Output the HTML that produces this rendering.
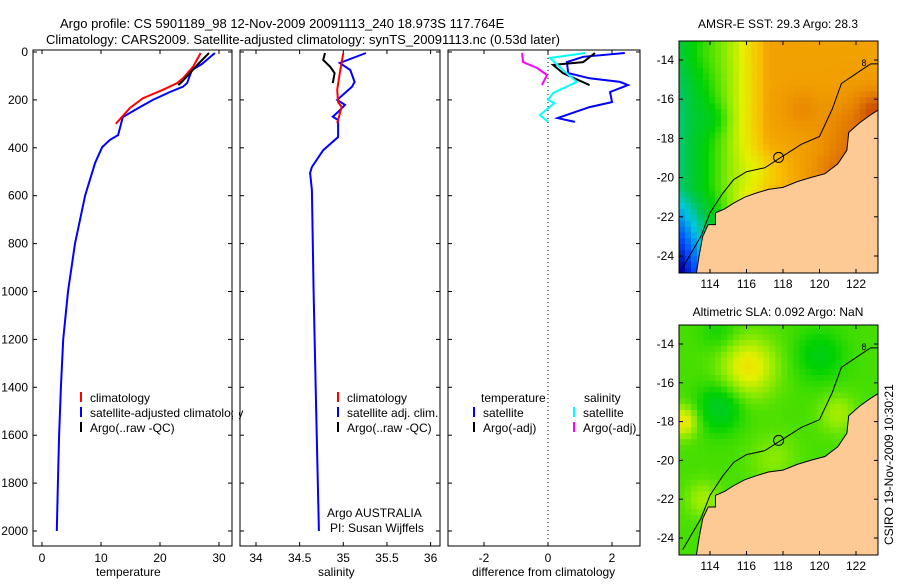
<!DOCTYPE html>
<html><head><meta charset="utf-8"><style>
body{margin:0;background:#fff}
svg text{font-family:"Liberation Sans",sans-serif;font-size:12px;fill:#000}
</style></head><body>
<svg id="fig" width="900" height="580" viewBox="0 0 900 580" xmlns="http://www.w3.org/2000/svg">
<text x="60" y="28" style="font-size:13px">Argo profile: CS 5901189_98 12-Nov-2009 20091113_240 18.973S 117.764E</text>
<text x="46" y="44" style="font-size:13px">Climatology: CARS2009. Satellite-adjusted climatology: synTS_20091113.nc (0.53d later)</text>
<g id="g"></g>
</svg>
<script>
// ---- data ----
const tClimDepth=[4,62,110,130,158,193,234,270,300];
const tClimVal=[26.9,25.6,23.9,22.9,20.5,17.1,14.9,13.6,12.5];
const tSatDepth=[4,50,75,130,145,167,200,230,272,347,367,397,463,576,600,800,1000,1200,1400,1600,1800,2000];
const tSatVal=[29.3,27.1,25.4,24.6,23.9,21.7,18.8,16.6,13.7,12.9,11.5,10.2,9.0,7.6,7.3,5.6,4.4,3.6,3.2,2.9,2.7,2.5];
const tArgoDepth=[4,54,88,125,138];
const tArgoVal=[28.3,26.3,25.1,23.7,23.1];
const sClimDepth=[4,88,158,209,230,284,297];
const sClimVal=[35.0,34.96,34.93,34.94,34.98,34.94,34.93];
const sSatDepth=[4,46,75,125,145,200,221,250,270,284,355,410,480,505,576,1000,1500,2000];
const sSatVal=[35.26,34.96,35.08,35.13,35.10,34.93,35.02,34.94,34.88,34.94,34.94,34.77,34.64,34.62,34.64,34.66,34.69,34.72];
const sArgoDepth=[4,33,62,88,130];
const sArgoVal=[34.79,34.77,34.85,34.90,34.88];
const dTSatDepth=[4,20,42,88,110,125,138,167,209,230,276,292];
const dTSatVal=[2.4,1.1,0.59,0.63,1.3,2.25,2.5,1.94,2.0,1.3,0.3,0.84];
const dTArgoDepth=[4,42,54,88,138];
const dTArgoVal=[1.47,1.1,0.16,0.47,1.3];
const dSSatDepth=[4,25,75,125,171,200,213,263,292];
const dSSatVal=[1.16,0.06,0.47,0.9,0.16,0,0.2,-0.25,0];
const dSArgoDepth=[4,42,67,96,138];
const dSArgoVal=[-0.81,-0.78,-0.34,-0.03,-0.19];
const depthTicks=[0,200,400,600,800,1000,1200,1400,1600,1800,2000];
const tTicks=[0,10,20,30];
const sTicks=[34,34.5,35,35.5,36];
const dTicks=[-2,0,2];
const lonTicks=[114,116,118,120,122];
const latTicks=[14,16,18,20,22,24];

const NS="http://www.w3.org/2000/svg";
const G=document.getElementById('g');
function mk(tag,at,parent){const e=document.createElementNS(NS,tag);for(const k in at)e.setAttribute(k,at[k]);(parent||G).appendChild(e);return e;}
const Y=d=>52+d*0.2395;
const panels=[
 {x0:33,x1:232,fx:v=>42+5.9*v,ticks:tTicks,label:'temperature',lx:96,name:'temperature-panel'},
 {x0:240,x1:440,fx:v=>256+87.3*(v-34),ticks:sTicks,label:'salinity',lx:318,name:'salinity-panel'},
 {x0:448,x1:640,fx:v=>548+32*v,ticks:dTicks,label:'difference from climatology',lx:472,name:'difference-panel'}
];
panels.forEach((p,i)=>{
 const r=mk('rect',{x:p.x0,y:50,width:p.x1-p.x0,height:496,fill:'none',stroke:'#000','stroke-width':1});
 
 
 p.ticks.forEach(t=>{const x=p.fx(t);
  mk('line',{x1:x,y1:50,x2:x,y2:54,stroke:'#000'});mk('line',{x1:x,y1:546,x2:x,y2:542,stroke:'#000'});
  const tx=mk('text',{x:x,y:562,'text-anchor':'middle'});tx.textContent=t;
  
  
 });
 depthTicks.forEach(d=>{const y=Y(d);
  mk('line',{x1:p.x0,y1:y,x2:p.x0+4,y2:y,stroke:'#000'});mk('line',{x1:p.x1,y1:y,x2:p.x1-4,y2:y,stroke:'#000'});
  if(i==0){const tx=mk('text',{x:28,y:y+4,'text-anchor':'end'});tx.textContent=d;
   
   }
 });
 const xl=mk('text',{x:p.lx,y:576});xl.textContent=p.label;
 
 
});
mk('line',{x1:548,y1:50,x2:548,y2:546,stroke:'#000','stroke-dasharray':'1,3'});
function series(p,ds,vs,col,name){
 const pts=ds.map((d,i)=>p.fx(vs[i]).toFixed(1)+','+Y(d).toFixed(1)).join(' ');
 const l=mk('polyline',{points:pts,fill:'none',stroke:col,'stroke-width':2});
 
 
}
series(panels[0],tSatDepth,tSatVal,'#0000ff','temp-satellite-line');
series(panels[0],tClimDepth,tClimVal,'#ff0000','temp-climatology-line');
series(panels[0],tArgoDepth,tArgoVal,'#000','temp-argo-line');
series(panels[1],sSatDepth,sSatVal,'#0000ff','sal-satellite-line');
series(panels[1],sClimDepth,sClimVal,'#ff0000','sal-climatology-line');
series(panels[1],sArgoDepth,sArgoVal,'#000','sal-argo-line');
series(panels[2],dTSatDepth,dTSatVal,'#0000ff','diff-temp-satellite-line');
series(panels[2],dTArgoDepth,dTArgoVal,'#000','diff-temp-argo-line');
series(panels[2],dSSatDepth,dSSatVal,'#00ffff','diff-sal-satellite-line');
series(panels[2],dSArgoDepth,dSArgoVal,'#ff00ff','diff-sal-argo-line');
function leg(x,y,col,txt){
 if(col)mk('line',{x1:x,y1:y-10,x2:x,y2:y,stroke:col,'stroke-width':2});
 const t=mk('text',{x:x+9,y:y});t.textContent=txt;
 
 
}
leg(81,402,'#ff0000','climatology');leg(81,417,'#0000ff','satellite-adjusted climatology');leg(81,432,'#000','Argo(..raw -QC)');
leg(338,402,'#ff0000','climatology');leg(338,417,'#0000ff','satellite adj. clim.');leg(338,432,'#000','Argo(..raw -QC)');
leg(472,402,null,'temperature');leg(575,402,null,'salinity');
leg(474,417,'#0000ff','satellite');leg(574,417,'#00ffff','satellite');
leg(474,432,'#000','Argo(-adj)');leg(574,432,'#ff00ff','Argo(-adj)');
let t=mk('text',{x:327,y:517});t.textContent='Argo AUSTRALIA';
t=mk('text',{x:330,y:532});t.textContent='PI: Susan Wijffels';
mk('rect',{x:233,y:380,width:6,height:60,fill:'#fff'});
mk('line',{x1:232,y1:380,x2:232,y2:440,stroke:'#000'});
mk('line',{x1:240,y1:380,x2:240,y2:440,stroke:'#000'});

// ---- maps ----
const cmapStops=[[0,0,0,160],[0.15,0,80,255],[0.3,0,200,220],[0.4,0,200,80],[0.5,0,210,0],[0.6,140,235,0],[0.67,230,240,0],[0.75,250,190,0],[0.82,235,140,0],[0.9,210,90,0],[1,180,0,0]];
function cmap(v){v=Math.max(0,Math.min(1,v));
 for(let i=1;i<cmapStops.length;i++){const a=cmapStops[i-1],b=cmapStops[i];
  if(v<=b[0]){const f=(v-a[0])/(b[0]-a[0]);return 'rgb('+[1,2,3].map(k=>Math.round(a[k]+(b[k]-a[k])*f)).join(',')+')';}}
 return 'rgb(180,0,0)';}
const gs=(lo,la,cx,cy,r)=>Math.exp(-((lo-cx)**2+(la-cy)**2)/(r*r));
const sst=(lo,la)=>0.79-0.085*Math.max(0,117.2-lo)+0.06*gs(lo,la,113,13.5,1.5)-0.06*Math.max(0,la-20.5)*Math.max(0,115.5-lo)/2-0.07*gs(lo,la,117,19.8,1.2)+0.08*gs(lo,la,122.5,18,2)+0.06*gs(lo,la,121,20,1.2)+0.08*gs(lo,la,123,16.5,0.8)-0.05*gs(lo,la,114.2,17,0.8)+0.03*gs(lo,la,119,16.5,1);
const sla=(lo,la)=>0.55+0.14*gs(lo,la,116.1,15.2,1.5)-0.1*gs(lo,la,114.5,17.3,1.2)+0.14*gs(lo,la,112.5,18,0.8)-0.07*gs(lo,la,120,14.6,1.3)+0.07*gs(lo,la,121,17.6,1)+0.07*gs(lo,la,113.6,22,0.9)+0.05*gs(lo,la,117.5,20,1.3)-0.05*gs(lo,la,118.5,22.5,1.5)-0.04*gs(lo,la,114.5,13.4,1);
const coast=[[113.2,25.2],[113.4,24],[113.6,23],[113.9,22.4],[114.3,22.4],[114.3,21.8],[114.8,21.6],[115.3,21.3],[115.9,21.0],[116.5,20.8],[117.2,20.6],[118,20.5],[118.8,20.2],[119.5,20.0],[120.3,19.8],[121,19.3],[121.5,18.6],[121.6,17.7],[122.2,17.2],[122.8,16.8],[123.3,16.5],[123.3,25.2]];
const shelf=[[112.5,24.6],[113.5,23],[114,21.8],[114.7,20.8],[115.3,20.1],[116,19.7],[117,19.5],[118,18.9],[119,18.3],[120,17.9],[120.7,16.5],[121.2,15.2],[122,14.7],[122.8,14.2],[123.2,14.2]];
function drawMap(top,bot,fn,title,ty,name){
 const x0=679,x1=878,lon=v=>710+(v-114)*18.25,lat=v=>top+19+(v-14)*((bot-top-36)/10);
 const mg=mk('g',{});
 const cp=mk('clipPath',{id:'c'+name},mg);mk('rect',{x:x0,y:top,width:x1-x0,height:bot-top},cp);
 const cg=mk('g',{'clip-path':'url(#c'+name+')'},mg);
 for(let lo=112.3;lo<123.5;lo+=0.33)for(let la=12.9;la<25.5;la+=0.3){
  mk('rect',{x:lon(lo).toFixed(1),y:lat(la).toFixed(1),width:6.4,height:6.2,fill:cmap(fn(lo+0.16,la+0.15))},cg);}
 mk('polygon',{points:coast.map(c=>lon(c[0])+','+lat(c[1])).join(' '),fill:'#fdc994',stroke:'#000','stroke-width':1},cg);
 mk('polyline',{points:shelf.map(c=>lon(c[0])+','+lat(c[1])).join(' '),fill:'none',stroke:'#000','stroke-width':1},cg);
 mk('circle',{cx:lon(117.76),cy:lat(18.97),r:5,fill:'none',stroke:'#000'},cg);
 mk('text',{x:lon(122.3),y:lat(14.3),style:'font-size:9px'},cg).textContent='8';
 mk('rect',{x:x0,y:top,width:x1-x0,height:bot-top,fill:'none',stroke:'#000'},mg);
 lonTicks.forEach(v=>{mk('line',{x1:lon(v),y1:top,x2:lon(v),y2:top+4,stroke:'#000'},mg);mk('line',{x1:lon(v),y1:bot,x2:lon(v),y2:bot-4,stroke:'#000'},mg);
  const tx=mk('text',{x:lon(v),y:bot+15,'text-anchor':'middle'},mg);tx.textContent=v;});
 latTicks.forEach(v=>{mk('line',{x1:x0,y1:lat(v),x2:x0+4,y2:lat(v),stroke:'#000'},mg);mk('line',{x1:x1,y1:lat(v),x2:x1-4,y2:lat(v),stroke:'#000'},mg);
  const tx=mk('text',{x:674,y:lat(v)+4,'text-anchor':'end'},mg);tx.textContent='-'+v;});
 const tt=mk('text',{x:778,y:ty,'text-anchor':'middle'},mg);tt.textContent=title;
 
 
}
drawMap(41,273,sst,'AMSR-E SST: 29.3 Argo: 28.3',28,'sst-map');
drawMap(325,555,sla,'Altimetric SLA: 0.092 Argo: NaN',316,'sla-map');
t=mk('text',{x:0,y:0,transform:'translate(893,545) rotate(-90)'});t.textContent='CSIRO 19-Nov-2009 10:30:21';


</script>
</body></html>
